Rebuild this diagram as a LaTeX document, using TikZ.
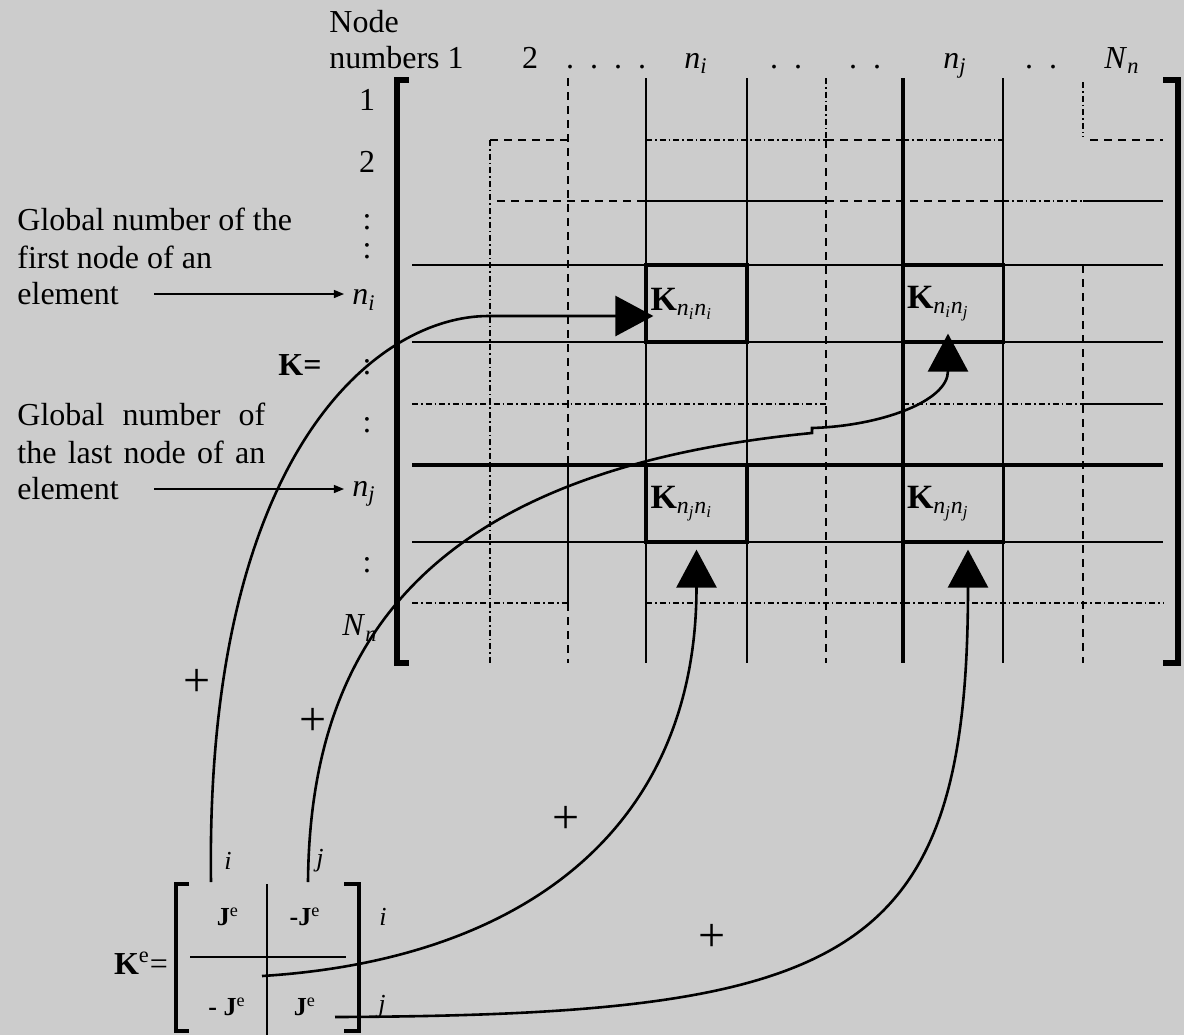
\documentclass[tikz,border=0pt]{standalone}
\usepackage{fontspec}
\setmainfont{Liberation Serif}
\usetikzlibrary{arrows.meta, positioning, calc}

\definecolor{paper}{RGB}{204,204,204}
\newcommand{\nidx}[1]{\textit{n}\textsubscript{\textit{#1}}}
\newcommand{\Kblock}[2]{\textbf{K}\textsubscript{\nidx{#1}\nidx{#2}}}

\tikzset{
  % Global matrix grid
  gridline/.style={line width=0.8pt},
  gridbold/.style={line width=1.6pt},
  griddash/.style={line width=0.8pt, dash pattern=on 4pt off 3pt},
  griddashdot/.style={line width=0.8pt, dash pattern=on 3pt off 1.5pt on 0.8pt off 1.5pt},
  matbracket/.style={line width=2.6pt},
  % Text
  lbl/.style={font=\fontsize{16}{19}\selectfont, inner sep=1pt},
  idxlbl/.style={font=\fontsize{13}{15}\selectfont\itshape, inner sep=1pt},
  plussign/.style={font=\fontsize{24}{24}\selectfont, inner sep=0pt},
  entry/.style={font=\fontsize{13}{15}\selectfont, inner sep=1pt},
  kblock/.style={draw, line width=1.6pt, minimum width=50.5pt, minimum height=38.5pt,
    text width=46pt, inner xsep=2.25pt, inner ysep=0pt, align=left,
    font=\fontsize{17}{19}\selectfont},
  % Pointers
  assemblypointer/.style={-{Triangle[length=19pt, width=20pt]}, line width=1.3pt},
  labelpointer/.style={-{Triangle[length=5pt, width=4pt]}, line width=0.6pt},
}

\begin{document}
\begin{tikzpicture}[x=0.5pt, y=-0.5pt]
  \useasboundingbox (0,0) rectangle (1184,1035);
  \fill[paper] (0,0) rectangle (1184,1035);

  % vertical grid lines
  \draw[griddashdot] (490,140) -- (490,663);
  \draw[griddash, line width=1.4pt] (568,78) -- (568,465);
  \draw[gridline, line width=1.2pt] (568,465) -- (568,603);
  \draw[griddash, line width=1.4pt] (568,603) -- (568,663);
  \draw[gridline] (646,78) -- (646,663);
  \draw[gridline] (747,78) -- (747,663);
  \draw[griddashdot] (826,78) -- (826,140);
  \draw[griddash] (826,140) -- (826,663);
  \draw[gridbold] (903,78) -- (903,663);
  \draw[gridline] (1003,78) -- (1003,663);
  \draw[griddashdot] (1083,82) -- (1083,137);
  \draw[griddash] (1083,265) -- (1083,663);

  % horizontal grid lines
  \draw[griddash] (490,140) -- (568,140);
  \draw[griddashdot] (646,140) -- (826,140);
  \draw[griddash] (826,140) -- (903,140);
  \draw[griddashdot] (903,140) -- (1003,140);
  \draw[griddash] (1090,140) -- (1163,140);
  \draw[griddash] (497,201) -- (646,201);
  \draw[gridline] (646,201) -- (826,201);
  \draw[griddash] (826,201) -- (1003,201);
  \draw[griddashdot] (1003,201) -- (1083,201);
  \draw[gridline] (1083,201) -- (1163,201);
  \foreach \y in {265,342,542}
    \draw[gridline] (412,\y) -- (1163,\y);
  \draw[griddashdot, line width=1.2pt] (412,404) -- (826,404);
  \draw[griddashdot] (903,404) -- (1083,404);
  \draw[gridline, line width=1.2pt] (1083,404) -- (1163,404);
  \draw[gridbold] (412,465) -- (1163,465);
  \draw[griddashdot] (412,603) -- (568,603);
  \draw[griddashdot] (646,603) -- (1163,603);

  % brackets of K
  \draw[matbracket] (409,80) -- (397,80) -- (397,663) -- (409,663);
  \draw[matbracket] (1163,80) -- (1178,80) -- (1178,663) -- (1163,663);

  % the four blocks
  \node[kblock] (Kii) at (696.5,303.5) {\Kblock{i}{i}};
  \node[kblock] (Kij) at (953,303.5) {\Kblock{i}{j}};
  \node[kblock] (Kji) at (696.5,503.5) {\Kblock{j}{i}};
  \node[kblock] (Kjj) at (953,503.5) {\Kblock{j}{j}};

  % column numbers
  \node[lbl, anchor=base west] (hdnode) at (327,32) {Node};
  \node[lbl, anchor=base west] (hdnum) at (327,68) {numbers 1};
  \node[lbl, anchor=base] (c2) at (530,68) {2};
  \node[lbl, anchor=base] (cd1) at (606,68) {.\ \ .\ \ .\ \ .};
  \node[lbl, anchor=base] (cni) at (696,68) {\nidx{i}};
  \node[lbl, anchor=base] (cd2) at (786,68) {.\ \ .};
  \node[lbl, anchor=base] (cd3) at (865,68) {.\ \ .};
  \node[lbl, anchor=base] (cnj) at (955,68) {\nidx{j}};
  \node[lbl, anchor=base] (cd4) at (1041,68) {.\ \ .};
  \node[lbl, anchor=base] (cNn) at (1122,68) {\textit{N}\textsubscript{\textit{n}}};

  % row numbers
  \node[lbl] (r1) at (367,100) {1};
  \node[lbl] (r2) at (367,162) {2};
  \node[lbl] (rd1) at (367,222) {:};
  \node[lbl] (rd2) at (367,251) {:};
  \node[lbl] (ni) at (364,300) {\nidx{i}};
  \node[lbl] (Keq) at (300,365) {\textbf{K=}};
  \node[lbl] (rd3) at (367,367) {:};
  \node[lbl] (rd4) at (367,425) {:};
  \node[lbl] (nj) at (364,494) {\nidx{j}};
  \node[lbl] (rd5) at (367,565) {:};
  \node[lbl] (rNn) at (360,628) {\textit{N}\textsubscript{\textit{n}}};

  % notes on the left
  \node[lbl, align=left, anchor=west] (gfirst) at (15,238) {Global number of the\\first node of an};
  \node[lbl, anchor=west] (efirst) at (15,294) {element};
  \node[lbl, align=left, anchor=west] (glast) at (15,433) {\makebox[124pt][s]{Global number of}\\\makebox[124pt][s]{the last node of an}};
  \node[lbl, anchor=west] (elast) at (15,489) {element};
  \draw[labelpointer, shorten <=16.5pt, shorten >=3pt] (efirst.east) -- (efirst.east -| ni.west);
  \draw[labelpointer, shorten <=16.5pt, shorten >=3pt] (elast.east) -- (elast.east -| nj.west);

  % element matrix
  \draw[matbracket, line width=2.2pt] (189,884) -- (176,884) -- (176,1031) -- (189,1031);
  \draw[matbracket, line width=2.2pt] (344,884) -- (359,884) -- (359,1031) -- (344,1031);
  \draw[gridline] (267,884) -- (267,1035);
  \draw[gridline, line width=1.2pt] (190,957) -- (346,957);
  \node[lbl] (Ke) at (141,963) {\textbf{K}\textsuperscript{e}=};
  \node[entry] (e11) at (228,917) {\textbf{J}\textsuperscript{e}};
  \node[entry] (e12) at (305,917) {\textbf{-J}\textsuperscript{e}};
  \node[entry] (e21) at (227,1007) {\textbf{- J}\textsuperscript{e}};
  \node[entry] (e22) at (305,1007) {\textbf{J}\textsuperscript{e}};
  \node[idxlbl] (ti) at (228,861) {i};
  \node[idxlbl] (tj) at (320,861) {j};
  \node[idxlbl] (si) at (383,917) {i};
  \node[idxlbl] (sj) at (382,1007) {j};

  % where the assembly paths leave K^e
  \coordinate (ci) at (211,882);
  \coordinate (cj) at (308,882);
  \coordinate (cii) at (262,976);
  \coordinate (cjj) at (335,1017);
  \coordinate (jog) at (812,433);

  % assembly paths
  \draw[assemblypointer] (ci) .. controls +(-6,-432) and +(-110,0) .. ($(Kii.west)+(-156,12.5)$)
    -- ([shift={(9,12.5)}]Kii.west);
  \draw[assemblypointer] (cj) .. controls +(2,-242) and +(-382,37) .. (jog)
    -- ++(0,-5) .. controls +(68,-2) and +(0,68) .. ([shift={(-5,-10)}]Kij.south);
  \draw[assemblypointer] (cii) .. controls +(258,-16) and +(0,282) .. ([shift={(0,6)}]Kji.south);
  \draw[assemblypointer] (cjj) .. controls +(515,-2) and +(0,412) .. ([shift={(15,6)}]Kjj.south);

  % plus signs
  \node[plussign] (p1) at (197,683) {+};
  \node[plussign] (p2) at (313,722) {+};
  \node[plussign] (p3) at (566,820) {+};
  \node[plussign] (p4) at (712,938) {+};
\end{tikzpicture}
\end{document}
